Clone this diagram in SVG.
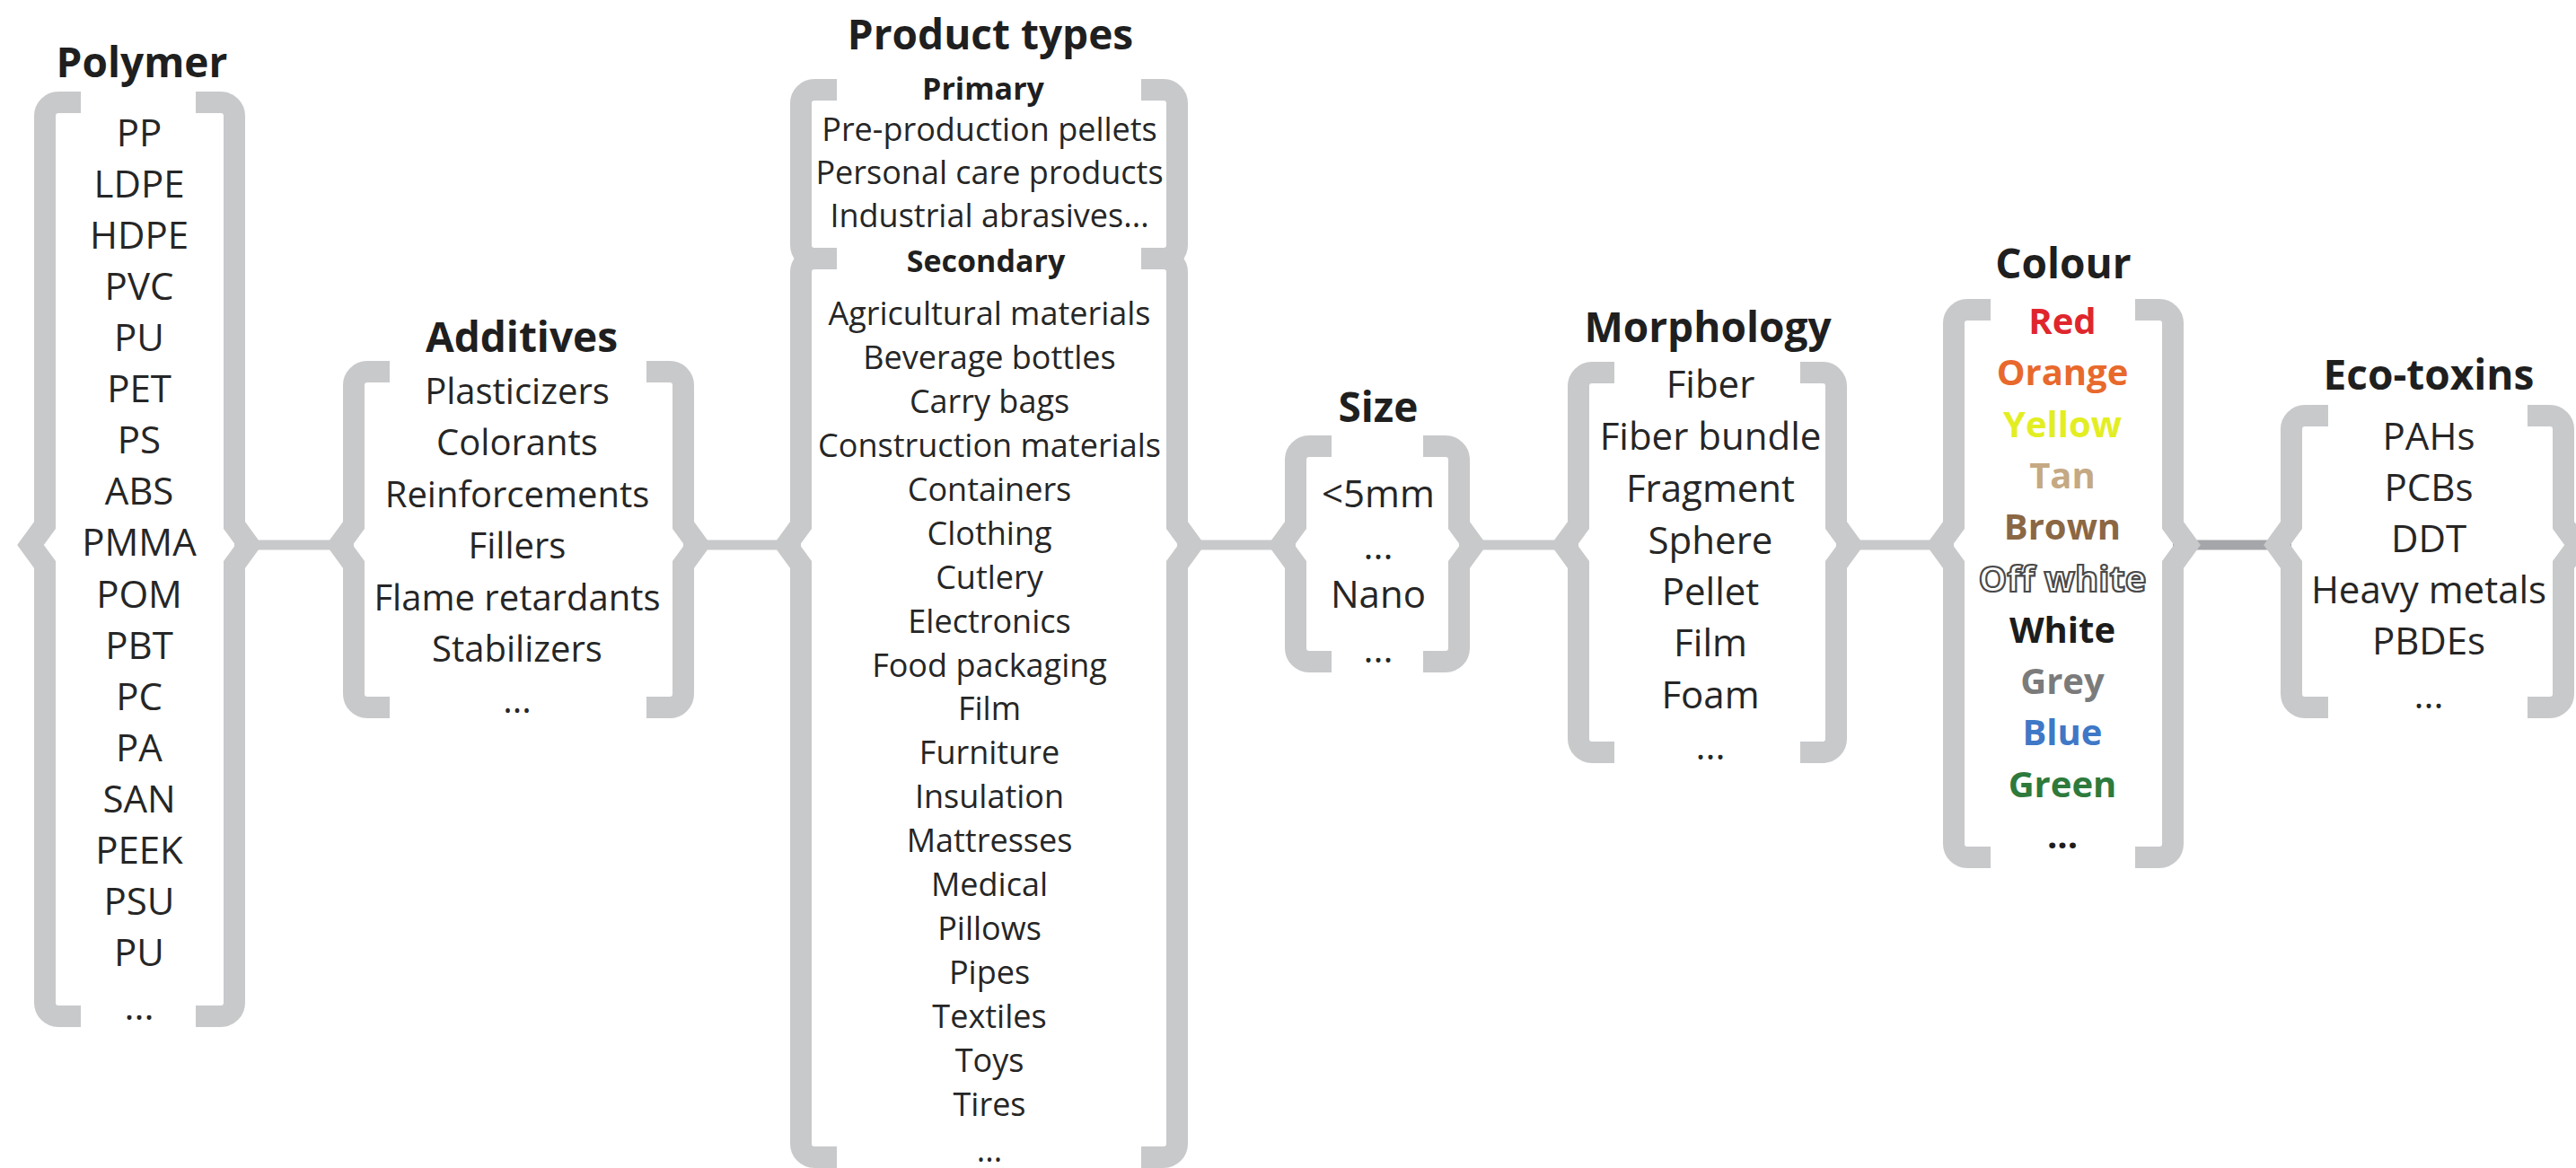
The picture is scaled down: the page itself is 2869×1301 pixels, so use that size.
<svg xmlns="http://www.w3.org/2000/svg" width="2869" height="1301" viewBox="0 0 2869 1301">
<style>
.br{fill:none;stroke:#c8c9cb;stroke-width:24;stroke-linejoin:miter;stroke-miterlimit:10}
.cn{stroke:#c8c9cb;stroke-width:11}
.cd{stroke:#a5a6a9;stroke-width:11}
.t{font-family:"Open Sans","Liberation Sans",sans-serif;font-weight:700;font-size:46px;fill:#1f1f1f;text-anchor:middle}
.i{font-family:"Open Sans","Liberation Sans",sans-serif;font-size:42px;fill:#262626;text-anchor:middle}
.s{font-size:40px}
.p{font-size:36px}
.h{font-family:"Open Sans","Liberation Sans",sans-serif;font-weight:700;font-size:34px;fill:#1f1f1f;text-anchor:middle}
.c{font-family:"Open Sans","Liberation Sans",sans-serif;font-weight:700;font-size:40px;text-anchor:middle}
</style>
<rect width="2869" height="1301" fill="#fff"/>
<g id="connectors">
<line class="cn" x1="261" y1="607" x2="394" y2="607"/>
<line class="cn" x1="761" y1="607" x2="892" y2="607"/>
<line class="cn" x1="1311" y1="607" x2="1443" y2="607"/>
<line class="cn" x1="1625" y1="607" x2="1758" y2="607"/>
<line class="cn" x1="2045" y1="607" x2="2176" y2="607"/>
<line class="cd" x1="2420" y1="607" x2="2552" y2="607"/>
</g>
<g id="polymer">
<path class="br" d="M90,114 H65 A15,15 0 0 0 50,129 V585 L34,607 L50,629 V1117 A15,15 0 0 0 65,1132 H90"/>
<path class="br" d="M218,114 H246 A15,15 0 0 1 261,129 V585 L277,607 L261,629 V1117 A15,15 0 0 1 246,1132 H218"/>
<text class="t" x="158" y="86">Polymer</text>
<g class="i">
<text x="155" y="163">PP</text>
<text x="155" y="220">LDPE</text>
<text x="155" y="277">HDPE</text>
<text x="155" y="334">PVC</text>
<text x="155" y="391">PU</text>
<text x="155" y="448">PET</text>
<text x="155" y="505">PS</text>
<text x="155" y="562">ABS</text>
<text x="155" y="619">PMMA</text>
<text x="155" y="677">POM</text>
<text x="155" y="734">PBT</text>
<text x="155" y="791">PC</text>
<text x="155" y="848">PA</text>
<text x="155" y="905">SAN</text>
<text x="155" y="962">PEEK</text>
<text x="155" y="1019">PSU</text>
<text x="155" y="1076">PU</text>
<text x="155" y="1136">...</text>
</g>
</g>
<g id="additives">
<path class="br" d="M434,414 H409 A15,15 0 0 0 394,429 V585 L378,607 L394,629 V773 A15,15 0 0 0 409,788 H434"/>
<path class="br" d="M720,414 H746 A15,15 0 0 1 761,429 V585 L777,607 L761,629 V773 A15,15 0 0 1 746,788 H720"/>
<text class="t" x="581" y="392">Additives</text>
<g class="i s">
<text x="576" y="450">Plasticizers</text>
<text x="576" y="507">Colorants</text>
<text x="576" y="565">Reinforcements</text>
<text x="576" y="622">Fillers</text>
<text x="576" y="680">Flame retardants</text>
<text x="576" y="737">Stabilizers</text>
<text x="576" y="794">...</text>
</g>
</g>
<g id="product-types">
<path class="br" d="M932,100 H907 A15,15 0 0 0 892,115 V273 A15,15 0 0 0 907,288 H932"/>
<path class="br" d="M1271,100 H1296 A15,15 0 0 1 1311,115 V273 A15,15 0 0 1 1296,288 H1271"/>
<path class="br" d="M932,288 H907 A15,15 0 0 0 892,303 V585 L876,607 L892,629 V1274 A15,15 0 0 0 907,1289 H932"/>
<path class="br" d="M1271,288 H1296 A15,15 0 0 1 1311,303 V585 L1327,607 L1311,629 V1274 A15,15 0 0 1 1296,1289 H1271"/>
<text class="t" x="1103" y="55">Product types</text>
<text class="h" x="1095" y="111">Primary</text>
<g class="i p">
<text x="1102" y="157">Pre-production pellets</text>
<text x="1102" y="205">Personal care products</text>
<text x="1102" y="253">Industrial abrasives...</text>
</g>
<text class="h" x="1098" y="303">Secondary</text>
<g class="i p">
<text x="1102" y="362">Agricultural materials</text>
<text x="1102" y="411">Beverage bottles</text>
<text x="1102" y="460">Carry bags</text>
<text x="1102" y="509">Construction materials</text>
<text x="1102" y="558">Containers</text>
<text x="1102" y="607">Clothing</text>
<text x="1102" y="656">Cutlery</text>
<text x="1102" y="705">Electronics</text>
<text x="1102" y="754">Food packaging</text>
<text x="1102" y="802">Film</text>
<text x="1102" y="851">Furniture</text>
<text x="1102" y="900">Insulation</text>
<text x="1102" y="949">Mattresses</text>
<text x="1102" y="998">Medical</text>
<text x="1102" y="1047">Pillows</text>
<text x="1102" y="1096">Pipes</text>
<text x="1102" y="1145">Textiles</text>
<text x="1102" y="1194">Toys</text>
<text x="1102" y="1243">Tires</text>
<text x="1102" y="1294">...</text>
</g>
</g>
<g id="size">
<path class="br" d="M1483,497 H1458 A15,15 0 0 0 1443,512 V585 L1427,607 L1443,629 V722 A15,15 0 0 0 1458,737 H1483"/>
<path class="br" d="M1585,497 H1610 A15,15 0 0 1 1625,512 V585 L1641,607 L1625,629 V722 A15,15 0 0 1 1610,737 H1585"/>
<text class="t" x="1535" y="470">Size</text>
<g class="i">
<text x="1535" y="565">&lt;5mm</text>
<text x="1535" y="623">...</text>
<text x="1535" y="677">Nano</text>
<text x="1535" y="738">...</text>
</g>
</g>
<g id="morphology">
<path class="br" d="M1798,415 H1773 A15,15 0 0 0 1758,430 V585 L1742,607 L1758,629 V823 A15,15 0 0 0 1773,838 H1798"/>
<path class="br" d="M2005,415 H2030 A15,15 0 0 1 2045,430 V585 L2061,607 L2045,629 V823 A15,15 0 0 1 2030,838 H2005"/>
<text class="t" x="1902" y="381">Morphology</text>
<g class="i">
<text x="1905" y="443">Fiber</text>
<text x="1905" y="501">Fiber bundle</text>
<text x="1905" y="559">Fragment</text>
<text x="1905" y="617">Sphere</text>
<text x="1905" y="674">Pellet</text>
<text x="1905" y="731">Film</text>
<text x="1905" y="789">Foam</text>
<text x="1905" y="846">...</text>
</g>
</g>
<g id="colour">
<path class="br" d="M2217,345 H2191 A15,15 0 0 0 2176,360 V585 L2160,607 L2176,629 V940 A15,15 0 0 0 2191,955 H2217"/>
<path class="br" d="M2378,345 H2405 A15,15 0 0 1 2420,360 V585 L2436,607 L2420,629 V940 A15,15 0 0 1 2405,955 H2378"/>
<text class="t" x="2298" y="310">Colour</text>
<g class="c">
<text x="2297" y="372" fill="#e0262d">Red</text>
<text x="2297" y="429" fill="#e8692c">Orange</text>
<text x="2297" y="487" fill="#e3ee22">Yellow</text>
<text x="2297" y="544" fill="#c4a984">Tan</text>
<text x="2297" y="601" fill="#8b6743">Brown</text>
<text x="2297" y="659" fill="#ffffff" stroke="#4a4a4a" stroke-width="2.2">Off white</text>
<text x="2297" y="716" fill="#1c1c1c">White</text>
<text x="2297" y="773" fill="#7b7b7b">Grey</text>
<text x="2297" y="830" fill="#3f78c6">Blue</text>
<text x="2297" y="888" fill="#2d7a3c">Green</text>
<text x="2297" y="945" fill="#1c1c1c">...</text>
</g>
</g>
<g id="eco-toxins">
<path class="br" d="M2593,463 H2567 A15,15 0 0 0 2552,478 V585 L2536,607 L2552,629 V773 A15,15 0 0 0 2567,788 H2593"/>
<path class="br" d="M2815,463 H2840 A15,15 0 0 1 2855,478 V585 L2871,607 L2855,629 V773 A15,15 0 0 1 2840,788 H2815"/>
<text class="t" x="2705" y="434">Eco-toxins</text>
<g class="i">
<text x="2705" y="501">PAHs</text>
<text x="2705" y="558">PCBs</text>
<text x="2705" y="615">DDT</text>
<text x="2705" y="672">Heavy metals</text>
<text x="2705" y="729">PBDEs</text>
<text x="2705" y="789">...</text>
</g>
</g>
</svg>
